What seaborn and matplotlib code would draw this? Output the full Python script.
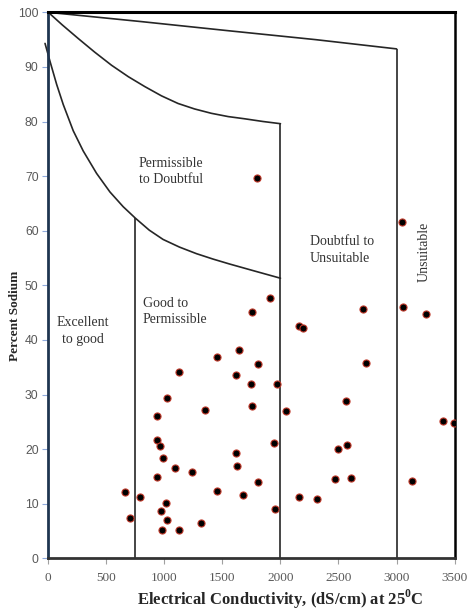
import matplotlib
matplotlib.use("Agg")
import matplotlib.pyplot as plt
import seaborn as sns

# ---- data ----
ec = [660, 703, 794, 940, 940, 966, 989, 940, 1023, 1124, 1089, 1012, 975, 1023,
      980, 1124, 1238, 1313, 1347, 1456, 1453, 1620, 1628, 1620, 1645, 1674, 1754,
      1906, 1800, 2709, 3050, 3058, 3250, 2164, 2190, 1809, 2740, 1743, 1969, 1754,
      2047, 2566, 3400, 3491, 1943, 2497, 2577, 1809, 2468, 2611, 3136, 2158, 2313, 1955]
na = [12.1, 7.3, 11.2, 21.6, 26.1, 20.5, 18.4, 14.9, 29.3, 34.2, 16.6, 10.1, 8.7, 7.0,
      5.2, 5.1, 15.9, 6.5, 27.2, 36.9, 12.3, 19.2, 17.0, 33.5, 38.2, 11.6, 45.2,
      47.7, 69.7, 45.7, 61.6, 46.0, 44.7, 42.6, 42.2, 35.6, 35.7, 32.0, 31.9, 27.9,
      27.0, 28.9, 25.1, 24.8, 21.1, 20.1, 20.8, 14.0, 14.6, 14.8, 14.2, 11.2, 10.8, 9.1]

# boundary curves of the Wilcox diagram
c1_x = [0, 800, 1563, 2300, 3000]
c1_y = [100, 98.3, 96.6, 95.0, 93.3]
c2_x = [0, 120, 258, 400, 545, 690, 831, 975, 1118, 1260, 1405, 1550, 1691, 1850, 2000]
c2_y = [100, 97.7, 95.2, 92.7, 90.3, 88.2, 86.4, 84.7, 83.3, 82.3, 81.5, 80.9, 80.5, 80.0, 79.6]
c3_x = [-28, 15, 72, 129, 215, 301, 416, 531, 645, 750, 870, 989, 1130, 1276, 1420,
        1562, 1780, 2000]
c3_y = [94.3, 91.0, 86.8, 83.1, 78.3, 74.6, 70.5, 67.1, 64.4, 62.3, 60.1, 58.4, 57.0,
        55.8, 54.8, 53.9, 52.6, 51.3]
v_x = [750, 2000, 3000]
v_top = [62.3, 79.6, 93.3]

x_ticks = [0, 500, 1000, 1500, 2000, 2500, 3000, 3500]
y_ticks = [0, 10, 20, 30, 40, 50, 60, 70, 80, 90, 100]

zones = ["Excellent\nto good", "Good to\nPermissible", "Permissible\nto Doubtful",
         "Doubtful to\nUnsuitable", "Unsuitable"]

# ---- style ----
sns.set_style("white")
plt.rcParams['font.family'] = ['Liberation Serif', 'DejaVu Serif']

fig = plt.figure(figsize=(4.72, 6.12), dpi=100)
ax = fig.add_axes([0.1023, 0.0877, 0.8608, 0.8922])

line_col = '#262626'
for cx, cy, clip in [(c1_x, c1_y, True), (c2_x, c2_y, True), (c3_x, c3_y, False)]:
    sns.lineplot(x=cx, y=cy, sort=False, estimator=None, color=line_col,
                 lw=1.2, ax=ax, clip_on=clip)
ax.vlines(v_x, 0, v_top, color=line_col, lw=1.2)

sns.scatterplot(x=ec, y=na, color='black', edgecolor='#c0392b', s=26,
                linewidth=0.8, ax=ax, zorder=5)

ax.set_xlim(0, 3500)
ax.set_ylim(0, 100)
ax.set_xticks(x_ticks)
ax.set_yticks(y_ticks)

for lab in ax.get_xticklabels():
    lab.set_fontfamily('Liberation Serif')
    lab.set_fontsize(9.5)
    lab.set_color('#595959')
for lab in ax.get_yticklabels():
    lab.set_fontfamily('Liberation Sans')
    lab.set_fontsize(8.8)
    lab.set_color('#595959')

ax.tick_params(axis='y', direction='out', length=4, width=0.8, color='#8faadc', pad=3)
ax.tick_params(axis='x', direction='out', length=4, width=0.8, color='#a0a0a0', pad=6)
ax.tick_params(left=True, bottom=True)

ax.spines['left'].set_color('#1f3550')
ax.spines['left'].set_linewidth(2.0)
ax.spines['bottom'].set_color('#333333')
ax.spines['bottom'].set_linewidth(2.0)
ax.spines['top'].set_color('black')
ax.spines['top'].set_linewidth(2.2)
ax.spines['right'].set_color('black')
ax.spines['right'].set_linewidth(1.8)
for s in ax.spines.values():
    s.set_visible(True)

ax.set_xlabel("Electrical Conductivity, (dS/cm) at 25$^{\\mathregular{0}}$C",
              fontsize=12, fontweight='bold')
ax.xaxis.set_label_coords(0.57, -0.054)
ax.set_ylabel("Percent Sodium", fontsize=9.5, fontweight='bold')
ax.yaxis.set_label_coords(-0.068, 0.445)

tcol = '#333333'
fs = 10
ax.text(298, 41.6, zones[0], ha='center', va='center', fontsize=fs, color=tcol, linespacing=1.35)
ax.text(815, 45.2, zones[1], ha='left', va='center', fontsize=fs, color=tcol, linespacing=1.35)
ax.text(780, 70.8, zones[2], ha='left', va='center', fontsize=fs, color=tcol, linespacing=1.35)
ax.text(2255, 56.5, zones[3], ha='left', va='center', fontsize=fs, color=tcol, linespacing=1.35)
ax.text(3240, 56.1, zones[4], ha='center', va='center', fontsize=fs, color=tcol, rotation=90)

fig.savefig('out.png', dpi=100)
